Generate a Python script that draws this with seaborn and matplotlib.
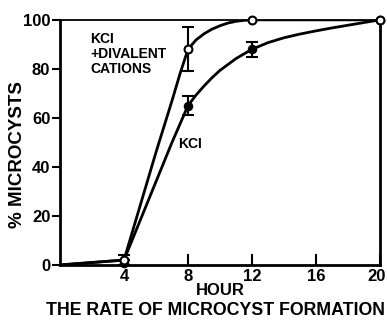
import matplotlib
matplotlib.use("Agg")
import matplotlib.pyplot as plt
import matplotlib.transforms as mtransforms
import seaborn as sns

# measured points
hours = [0, 4, 8, 12, 20]
div_pct = [0, 2, 88, 100, 100]
div_err = [0, 2, 9, 0, 0]
kcl_pct = [0, 1, 65, 88, 100]
kcl_err = [0, 1, 4, 3, 0]

# hand-drawn fitted curves
div_curve_h = [0, 4, 5, 6, 7, 7.5, 8, 8.5, 9, 9.5, 10, 10.5, 11, 11.5, 12, 20]
div_curve_y = [0, 2, 24, 46, 67, 78, 88, 91.8, 94.3, 96.2, 97.6, 98.7, 99.4, 99.8, 100, 100]
kcl_curve_h = [0, 4, 5, 6, 7, 8, 8.5, 9, 9.5, 10, 11, 12, 13, 14, 15, 16, 17, 18, 19, 20]
kcl_curve_y = [0, 2, 18, 34, 50, 65, 69.3, 73, 76.4, 79.4, 84.2, 88, 90.7, 92.7, 94.2, 95.5, 96.7, 97.8, 98.9, 100]

sns.set_style("ticks")
plt.rcParams['font.family'] = ['Liberation Sans', 'DejaVu Sans']
plt.rcParams['font.weight'] = 'bold'
plt.rcParams['text.color'] = 'black'
plt.rcParams['axes.labelcolor'] = 'black'
plt.rcParams['xtick.color'] = 'black'
plt.rcParams['ytick.color'] = 'black'
plt.rcParams['axes.edgecolor'] = 'black'

fig = plt.figure(figsize=(3.87, 3.2), dpi=100)
ax = fig.add_axes([0.155, 0.172, 0.827, 0.766])

lw = 2.0
sns.lineplot(x=div_curve_h, y=div_curve_y, ax=ax, color='black', lw=lw)
sns.lineplot(x=kcl_curve_h, y=kcl_curve_y, ax=ax, color='black', lw=lw)

ax.errorbar(hours, kcl_pct, yerr=kcl_err, fmt='none', ecolor='black',
            elinewidth=1.5, capsize=4, capthick=1.5, zorder=3)
ax.errorbar(hours, div_pct, yerr=div_err, fmt='none', ecolor='black',
            elinewidth=1.5, capsize=4, capthick=1.5, zorder=3)
sns.scatterplot(x=hours[1:], y=kcl_pct[1:], ax=ax, color='black', s=32,
                edgecolor='black', linewidth=1.2, zorder=4, clip_on=False)
sns.scatterplot(x=hours[1:], y=div_pct[1:], ax=ax, color='white', s=32,
                edgecolor='black', linewidth=1.5, zorder=5, clip_on=False)

ax.set_xlim(0, 20)
ax.set_ylim(0, 100)
ax.set_xticks([4, 8, 12, 16, 20])
ax.set_yticks([0, 20, 40, 60, 80, 100])
ax.tick_params(axis='x', direction='in', length=8, width=1.5, labelsize=12, pad=3)
ax.tick_params(axis='y', direction='out', length=6, width=1.5, labelsize=12, pad=1)
for lab in ax.get_xticklabels() + ax.get_yticklabels():
    lab.set_fontweight('bold')
# nudge the last x label so it stays inside the figure
last = ax.get_xticklabels()[-1]
last.set_transform(last.get_transform() + mtransforms.ScaledTranslation(-3 / 100, 0, fig.dpi_scale_trans))
for side in ['left', 'bottom', 'right']:
    ax.spines[side].set_linewidth(2)
ax.spines['top'].set_linewidth(1.3)

ax.set_ylabel('% MICROCYSTS', fontsize=13.5, fontweight='bold')
ax.yaxis.set_label_coords(-0.105, 0.45)
ax.set_xlabel('HOUR', fontsize=12, fontweight='bold', labelpad=-1)
fig.text(0.558, 0.016, 'THE RATE OF MICROCYST FORMATION', ha='center',
         va='baseline', fontsize=12.8, fontweight='bold')

ax.text(1.9, 95, 'KCI\n+DIVALENT\nCATIONS', fontsize=10, fontweight='bold',
        va='top', ha='left', linespacing=1.1)
ax.text(7.4, 52, 'KCI', fontsize=10, fontweight='bold', va='top', ha='left')

fig.savefig('out.png', dpi=100)
